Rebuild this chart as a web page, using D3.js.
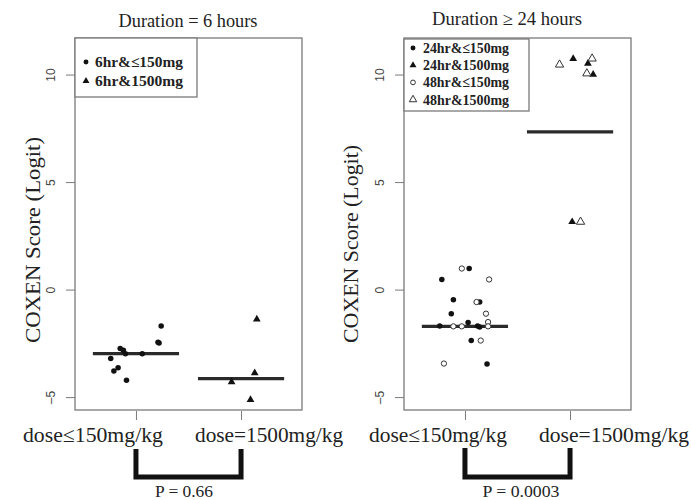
<!DOCTYPE html>
<html>
<head>
<meta charset="utf-8">
<script src="https://cdn.jsdelivr.net/npm/d3@7"></script>
<style>
  html, body { margin: 0; padding: 0; background: #fff; }
  svg { display: block; font-family: "Liberation Serif", "DejaVu Serif", serif; }
</style>
</head>
<body>
<svg id="chart" width="691" height="500"></svg>
<script>
// ---- data -------------------------------------------------------------
// Dose groups on the x axis (1 = low dose, 2 = high dose)
const doseCategories = ["dose\u2264150mg/kg", "dose=1500mg/kg"];
const yTicks = [-5, 0, 5, 10];

// Duration = 6 hours
const sixHrLowValues  = [-1.69, -2.48, -2.45, -2.74, -2.82, -2.98, -2.98, -3.21, -3.63, -3.79, -4.22];
const sixHrLowJitter  = [0.24, 0.22, 0.21, -0.15, -0.12, -0.10, 0.06, -0.24, -0.17, -0.21, -0.09];
const sixHrHighValues = [-1.38, -3.88, -4.30, -5.12];
const sixHrHighJitter = [0.15, 0.13, -0.09, 0.09];
const sixHrCenters    = [-2.98, -4.14];

// Duration >= 24 hours
const day24LowValues  = [0.98, 0.47, -0.47, -0.58, -1.12, -1.53, -1.69, -1.69, -1.74, -2.37, -3.46];
const day24LowJitter  = [0.04, -0.22, -0.11, 0.14, -0.13, 0.03, -0.24, 0.12, 0.14, 0.06, 0.21];
const day24HighValues = [10.74, 10.51, 10.00, 3.15];
const day24HighJitter = [0.03, 0.17, 0.22, 0.02];
const day48LowValues  = [0.98, 0.47, -0.58, -1.12, -1.51, -1.71, -1.71, -1.71, -2.37, -3.44];
const day48LowJitter  = [-0.03, 0.23, 0.11, 0.20, 0.22, -0.11, -0.03, 0.22, 0.15, -0.20];
const day48HighValues = [10.46, 10.74, 10.05, 3.15];
const day48HighJitter = [-0.10, 0.21, 0.16, 0.10];
const longCenters     = [-1.71, 7.33];

const pValues = ["P = 0.66", "P = 0.0003"];

// ---- drawing ------------------------------------------------------------
const svg = d3.select("#chart");
const ink = "#111";
const frame = "#7a7a7a";

const y = d3.scaleLinear().domain([-5.6, 11.7]).range([410, 38]);

const symFilledCircle = { shape: d3.symbolCircle, size: 24, fill: ink, stroke: "none" };
const symFilledTri    = { shape: d3.symbolTriangle, size: 26, fill: ink, stroke: "none" };
const symOpenCircle   = { shape: d3.symbolCircle, size: 22, fill: "#fff", stroke: "#333" };
const symOpenTri      = { shape: d3.symbolTriangle, size: 30, fill: "#fff", stroke: "#333" };

function drawPanel(cfg) {
  const g = svg.append("g");
  const x = d3.scaleLinear().domain([0.42, 2.58]).range([cfg.left, cfg.right]);
  const [top, bottom] = y.range().slice().reverse();

  // title
  g.append("text")
    .attr("x", cfg.titleX).attr("y", cfg.titleY)
    .attr("text-anchor", "middle")
    .attr("font-size", 18)
    .attr("textLength", cfg.titleLen).attr("lengthAdjust", "spacingAndGlyphs")
    .attr("fill", "#222")
    .text(cfg.title);

  // y axis ticks with rotated labels
  const yAxis = d3.axisLeft(y).tickValues(yTicks).tickSize(9).tickFormat(d => d < 0 ? "\u2013" + Math.abs(d) : d);
  const ya = g.append("g").attr("transform", `translate(${cfg.left},0)`).call(yAxis);
  ya.select(".domain").remove();
  ya.selectAll(".tick line").attr("stroke", frame);
  ya.selectAll(".tick text")
    .attr("transform", "rotate(-90)")
    .attr("x", 0).attr("y", -20).attr("dy", 0)
    .attr("text-anchor", "middle")
    .attr("font-size", 12)
    .attr("font-family", "Liberation Sans, sans-serif")
    .attr("fill", "#444");

  // y axis title
  g.append("text")
    .attr("transform", `translate(${cfg.yTitleX},${cfg.yTitleY}) rotate(-90)`)
    .attr("text-anchor", "middle")
    .attr("font-size", 20)
    .attr("textLength", cfg.yTitleLen).attr("lengthAdjust", "spacingAndGlyphs")
    .attr("fill", "#222")
    .text("COXEN Score (Logit)");

  // x axis ticks
  const xAxis = d3.axisBottom(x).tickValues([1, 2]).tickSize(9).tickFormat("");
  const xa = g.append("g").attr("transform", `translate(0,${bottom + 1})`).call(xAxis);
  xa.select(".domain").remove();
  xa.selectAll(".tick line").attr("stroke", frame);

  // x category labels
  g.selectAll("text.cat").data(doseCategories).join("text")
    .attr("class", "cat")
    .attr("x", (d, i) => x(i + 1) + cfg.catShift[i])
    .attr("y", 442)
    .attr("text-anchor", "middle")
    .attr("font-size", 21)
    .attr("textLength", (d, i) => cfg.catLen[i]).attr("lengthAdjust", "spacingAndGlyphs")
    .attr("fill", "#222")
    .text(d => d);

  // plot frame
  g.append("rect")
    .attr("x", cfg.left).attr("y", top)
    .attr("width", cfg.right - cfg.left).attr("height", bottom - top)
    .attr("fill", "none").attr("stroke", frame).attr("stroke-width", 1.3);

  // group centre lines
  g.selectAll("line.center").data(cfg.centers).join("line")
    .attr("class", "center")
    .attr("x1", (d, i) => x(i + 1 - 0.41)).attr("x2", (d, i) => x(i + 1 + 0.41))
    .attr("y1", d => y(d)).attr("y2", d => y(d))
    .attr("stroke", "#2a2a2a").attr("stroke-width", 3.2);

  // points
  cfg.series.forEach(s => {
    const pts = s.values.map((v, i) => ({ gx: s.group + s.jitter[i], v }));
    g.append("g").selectAll("path").data(pts).join("path")
      .attr("transform", d => `translate(${x(d.gx)},${y(d.v)})`)
      .attr("d", d3.symbol(s.sym.shape, s.sym.size))
      .attr("fill", s.sym.fill)
      .attr("stroke", s.sym.stroke)
      .attr("stroke-width", 1);
  });

  // legend
  const lg = g.append("g");
  lg.append("rect")
    .attr("x", cfg.left).attr("y", top + cfg.legend.dy)
    .attr("width", cfg.legend.w).attr("height", cfg.legend.h)
    .attr("fill", "#fff").attr("stroke", frame).attr("stroke-width", 1.3);
  cfg.series.forEach((s, i) => {
    const ey = cfg.legend.firstY + i * cfg.legend.step;
    lg.append("path")
      .attr("transform", `translate(${cfg.left + cfg.legend.symDx},${ey})`)
      .attr("d", d3.symbol(s.sym.shape, s.sym.size * 0.8))
      .attr("fill", s.sym.fill).attr("stroke", s.sym.stroke);
    lg.append("text")
      .attr("x", cfg.left + cfg.legend.textDx).attr("y", ey + 5)
      .attr("font-size", 15).attr("font-weight", "bold")
      .attr("textLength", cfg.legend.textLen).attr("lengthAdjust", "spacingAndGlyphs")
      .attr("fill", "#222")
      .text(s.label);
  });

  // significance bracket
  g.append("path")
    .attr("d", `M${x(1)},${cfg.bracketTop}V477H${x(2)}V${cfg.bracketTop}`)
    .attr("fill", "none").attr("stroke", ink).attr("stroke-width", 5)
    .attr("stroke-linejoin", "miter");
  g.append("text")
    .attr("x", cfg.pX).attr("y", 497)
    .attr("text-anchor", "middle").attr("font-size", 16)
    .attr("textLength", cfg.pLen).attr("lengthAdjust", "spacingAndGlyphs")
    .attr("fill", "#222")
    .text(cfg.pLabel);
}

drawPanel({
  left: 75, right: 302,
  title: "Duration = 6 hours", titleX: 188, titleY: 27, titleLen: 139,
  yTitleX: 40, yTitleY: 240, yTitleLen: 206,
  catShift: [-43, 28], catLen: [140, 148],
  centers: sixHrCenters,
  series: [
    { label: "6hr&\u2264150mg", values: sixHrLowValues, jitter: sixHrLowJitter, group: 1, sym: symFilledCircle },
    { label: "6hr&1500mg", values: sixHrHighValues, jitter: sixHrHighJitter, group: 2, sym: symFilledTri }
  ],
  legend: { dy: 0, w: 122, h: 59, firstY: 62, step: 19, symDx: 11, textDx: 20, textLen: 88 },
  bracketTop: 449, pX: 184, pLen: 58, pLabel: pValues[0]
});

drawPanel({
  left: 404, right: 631,
  title: "Duration \u2265 24 hours", titleX: 507, titleY: 25, titleLen: 150,
  yTitleX: 358, yTitleY: 244, yTitleLen: 198,
  catShift: [-27, 44], catLen: [138, 150],
  centers: longCenters,
  series: [
    { label: "24hr&\u2264150mg", values: day24LowValues, jitter: day24LowJitter, group: 1, sym: symFilledCircle },
    { label: "24hr&1500mg", values: day24HighValues, jitter: day24HighJitter, group: 2, sym: symFilledTri },
    { label: "48hr&\u2264150mg", values: day48LowValues, jitter: day48LowJitter, group: 1, sym: symOpenCircle },
    { label: "48hr&1500mg", values: day48HighValues, jitter: day48HighJitter, group: 2, sym: symOpenTri }
  ],
  legend: { dy: 1, w: 125, h: 72, firstY: 48, step: 17.2, symDx: 9, textDx: 19, textLen: 86 },
  bracketTop: 448, pX: 521, pLen: 77, pLabel: pValues[1]
});
</script>
</body>
</html>
